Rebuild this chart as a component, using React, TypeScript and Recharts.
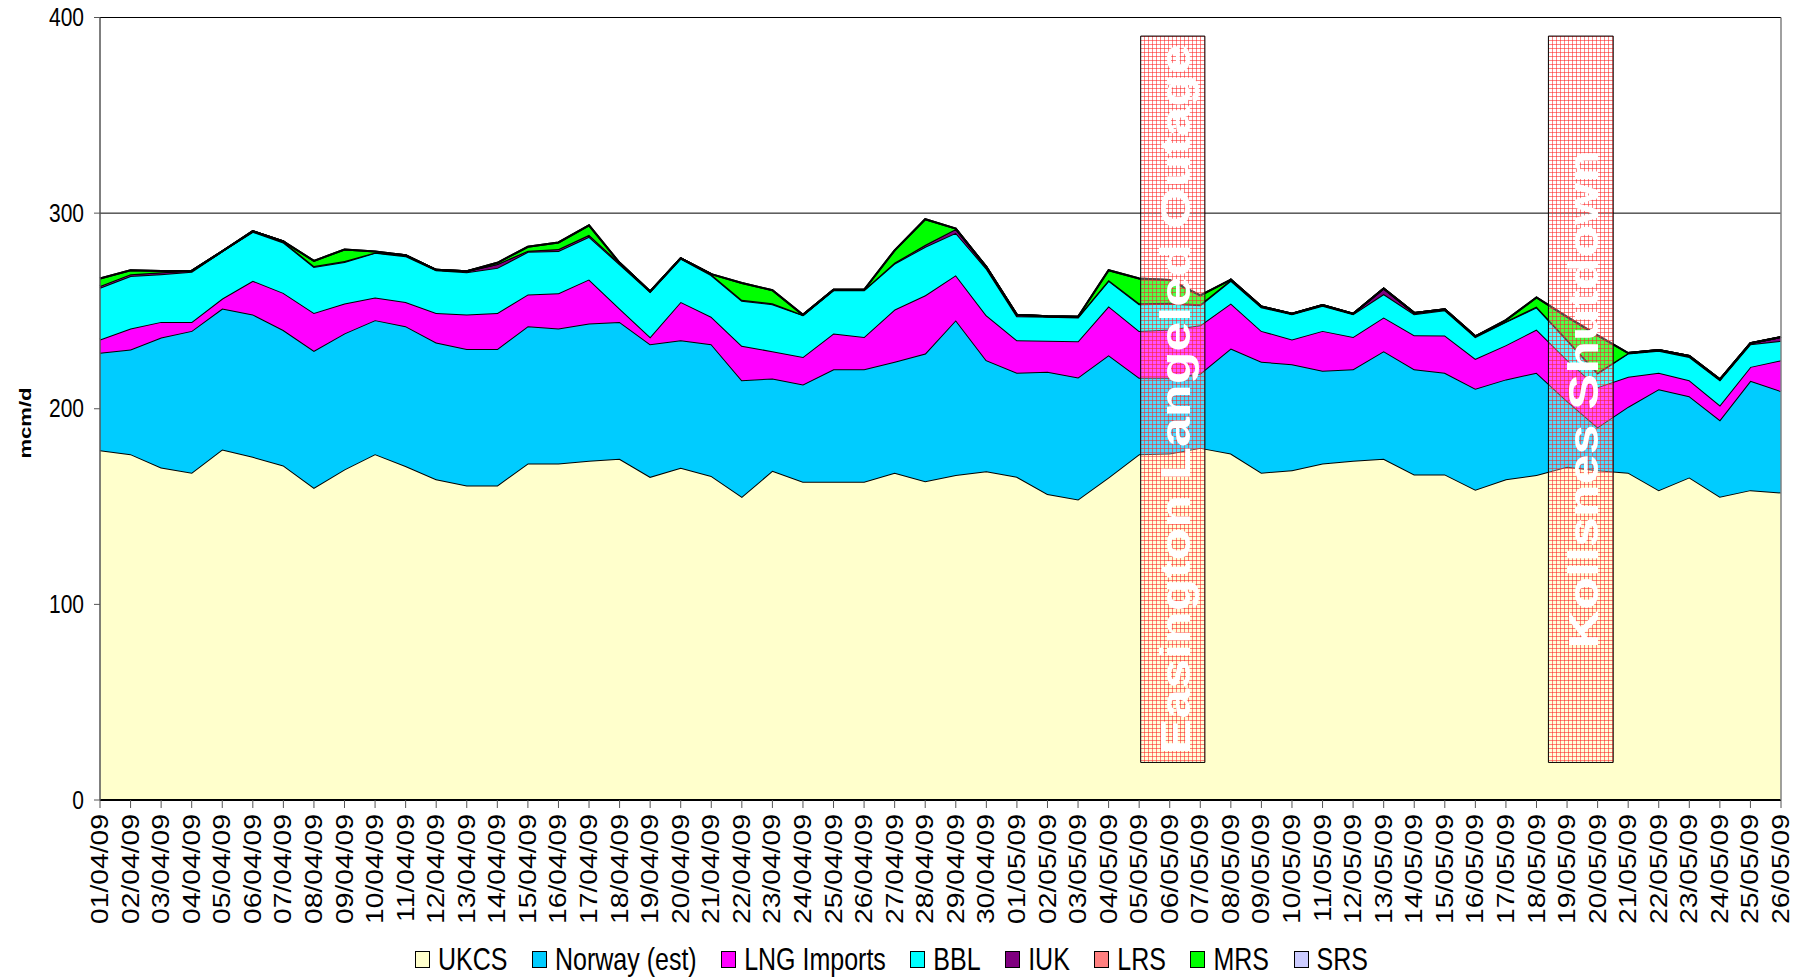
import {
  Area,
  AreaChart,
  CartesianGrid,
  Legend,
  ReferenceArea,
  ReferenceLine,
  XAxis,
  YAxis,
} from "recharts";

const FONT = "'Liberation Sans', Arial, sans-serif";

const dates = [
  "01/04/09", "02/04/09", "03/04/09", "04/04/09", "05/04/09", "06/04/09", "07/04/09",
  "08/04/09", "09/04/09", "10/04/09", "11/04/09", "12/04/09", "13/04/09", "14/04/09",
  "15/04/09", "16/04/09", "17/04/09", "18/04/09", "19/04/09", "20/04/09", "21/04/09",
  "22/04/09", "23/04/09", "24/04/09", "25/04/09", "26/04/09", "27/04/09", "28/04/09",
  "29/04/09", "30/04/09", "01/05/09", "02/05/09", "03/05/09", "04/05/09", "05/05/09",
  "06/05/09", "07/05/09", "08/05/09", "09/05/09", "10/05/09", "11/05/09", "12/05/09",
  "13/05/09", "14/05/09", "15/05/09", "16/05/09", "17/05/09", "18/05/09", "19/05/09",
  "20/05/09", "21/05/09", "22/05/09", "23/05/09", "24/05/09", "25/05/09", "26/05/09",
];

const ukcs = [
  178.8, 176.8, 170, 167.3, 179.2, 175.4, 171, 159.6, 169, 176.8,
  170.7, 163.9, 160.8, 160.8, 172, 172, 173.4, 174.4, 165.2, 169.8,
  165.6, 155, 168.3, 162.7, 162.7, 162.7, 167.3, 163, 166.1, 168.1,
  165.2, 156.4, 153.6, 164.9, 176.8, 177.1, 180, 177.1, 167.3, 168.6,
  172, 173.4, 174.4, 166.4, 166.4, 158.6, 163.9, 166.1, 170.3, 168.5,
  167.3, 158.4, 164.9, 155, 158.4, 157.2,
];
const norway = [
  49.8, 53.5, 66.4, 72.5, 72, 72.8, 69.2, 70, 69.5, 68.5,
  71.5, 70, 69.8, 69.8, 70.2, 69, 70.2, 70, 67.8, 65.2,
  67.4, 59.6, 47.2, 49.7, 57.5, 57.5, 56.7, 65.2, 79.2, 56.7,
  53.2, 62.5, 62.4, 62.5, 39, 38.7, 38, 53.7, 56.7, 54.2,
  47.4, 46.8, 55, 53.8, 52, 51.6, 51.1, 52.3, 33.7, 22,
  33.7, 51.6, 41.5, 39.2, 55.9, 51.8,
];
const lng = [
  6.8, 10.7, 8, 4.6, 5.1, 17.2, 19, 19.4, 15.3, 11.6,
  12.4, 15.1, 17.6, 18.4, 16.2, 18, 22.5, 6.8, 3.7, 19.6,
  14, 17.6, 13.9, 14.1, 18.3, 16.5, 26.7, 29.8, 23, 23,
  16.6, 15.8, 18.5, 25, 24, 24.7, 24.7, 23, 15.8, 12.6,
  20.4, 16.5, 17.3, 17.4, 19.1, 15.3, 17.5, 22.1, 21, 20.5,
  15.3, 8.4, 8.2, 7.6, 7.1, 15.8,
];
const bbl = [
  26.4, 26.8, 24.4, 25.6, 24.2, 25, 25.8, 23.5, 21.2, 22.8,
  23.4, 21.8, 21.6, 23, 21.8, 21.6, 21.8, 22.7, 23, 22.2,
  21.3, 23, 24, 21.3, 22.1, 23.9, 23.5, 24.8, 21.6, 23.9,
  12.3, 12.3, 12.2, 13, 13.6, 13.2, 10.2, 11.6, 12, 12.9,
  12.8, 11.6, 11.9, 10.7, 12.9, 11.2, 11.9, 11.3, 10, 7,
  12, 11.2, 11.9, 12.8, 11.6, 9.9,
];
const iuk = [
  1, 1, 1, 0.5, 0, 0.4, 0.5, 0.5, 0.5, 0.2,
  0.5, 0.2, 0.5, 2, 0.6, 1, 1, 0.7, 0.3, 0.2,
  0.5, 0.5, 0.5, 0.2, 0.2, 0.2, 0.5, 1, 2, 0.8,
  0.7, 0.3, 0.3, 0.4, 0.5, 0.5, 0.5, 0.6, 0.5, 0.3,
  0.4, 0.3, 2.9, 0.7, 0.4, 0.3, 0.3, 0.5, 0.5, 0.5,
  0.2, 0.4, 0.5, 0.4, 0.5, 2,
];
const lrs = [
  0, 0, 0, 0, 0, 0, 0, 0, 0, 0,
  0, 0, 0, 0, 0, 0, 0, 0, 0, 0,
  0, 0, 0, 0, 0, 0, 0, 0, 0, 0,
  0, 0, 0, 0, 0, 0, 0, 0, 0, 0,
  0, 0, 0, 0, 0, 0, 0, 0, 0, 0,
  0, 0, 0, 0, 0, 0,
];
const mrs = [
  3.8, 2, 0.6, 0, 0, 0, 0, 2.6, 5.9, 0.5,
  0, 0, 0, 0.6, 2, 3.4, 4.9, 0, 0, 0,
  0, 8.6, 6.7, 0, 0, 0, 6.3, 13.1, 0.2, 0,
  0, 0, 0, 5, 12.7, 11.6, 4.6, 0, 0, 0,
  0, 0, 0, 0, 0, 0, 0.6, 4.6, 11.5, 19,
  0, 0, 0, 0, 0, 0,
];
const srs = [
  0, 0, 0, 0, 0, 0, 0, 0, 0, 0,
  0, 0, 0, 0, 0, 0, 0, 0, 0, 0,
  0, 0, 0, 0, 0, 0, 0, 0, 0, 0,
  0, 0, 0, 0, 0, 0, 0, 0, 0, 0,
  0, 0, 0, 0, 0, 0, 0, 0, 0, 0,
  0, 0, 0, 0, 0, 0,
];

const yTicks = [0, 100, 200, 300, 400];

const series = [
  { key: "UKCS", values: ukcs, color: "#FFFFCC" },
  { key: "Norway (est)", values: norway, color: "#00CCFF" },
  { key: "LNG Imports", values: lng, color: "#FF00FF" },
  { key: "BBL", values: bbl, color: "#00FFFF" },
  { key: "IUK", values: iuk, color: "#800080" },
  { key: "LRS", values: lrs, color: "#FF8080" },
  { key: "MRS", values: mrs, color: "#00FF00" },
  { key: "SRS", values: srs, color: "#CCCCFF" },
];

// outage windows (fractional day index)
const outages = [
  { x1: 34.05, x2: 36.15, text: "Easington Langeled Outage" },
  { x1: 47.39, x2: 49.51, text: "Kollsnes Shutdown" },
];

const data = dates.map((d, i) => {
  const row: Record<string, number | string> = { i, date: d };
  series.forEach((s) => {
    row[s.key] = s.values[i];
  });
  return row;
});

function DateTick(props: any) {
  const { x, y, payload } = props;
  return (
    <text
      transform={`translate(${x},${y + 4}) rotate(-90) scale(1.23,1)`}
      textAnchor="end"
      dominantBaseline="central"
      fontSize={23}
      fontFamily={FONT}
      fill="#000"
    >
      {dates[payload.value]}
    </text>
  );
}

function ValueTick(props: any) {
  const { x, y, payload } = props;
  return (
    <text
      transform={`translate(${x},${y}) scale(1,1.2)`}
      textAnchor="end"
      dominantBaseline="central"
      fontSize={21}
      fontFamily={FONT}
      fill="#000"
    >
      {payload.value}
    </text>
  );
}

function BoxLabel(props: any) {
  const { viewBox, text } = props;
  const cx = viewBox.x + viewBox.width / 2;
  const cy = viewBox.y + viewBox.height / 2;
  return (
    <text
      transform={`translate(${cx + 2},${cy}) rotate(-90) scale(1.25,1)`}
      textAnchor="middle"
      dominantBaseline="central"
      fontSize={43}
      fontWeight="bold"
      fontFamily={FONT}
      fill="#fff"
    >
      {text}
    </text>
  );
}

function LegendBox() {
  return (
    <div
      style={{
        display: "flex",
        alignItems: "center",
        gap: 24.5,
        fontFamily: FONT,
        fontSize: 25,
        lineHeight: "30px",
        color: "#000",
        whiteSpace: "nowrap",
      }}
    >
      {series.map((s) => (
        <div key={s.key} style={{ display: "flex", alignItems: "center", gap: 8 }}>
          <span
            style={{
              width: 13,
              height: 15,
              background: s.color,
              border: "1.5px solid #000",
              display: "inline-block",
            }}
          />
          <span style={{ display: "inline-block", transform: "scaleY(1.25)" }}>{s.key}</span>
        </div>
      ))}
    </div>
  );
}

export default function App() {
  return (
    <>
      <style>{"body{margin:0}"}</style>
      <AreaChart
        width={1808}
        height={977}
        data={data}
        margin={{ top: 17.5, right: 27, left: 0, bottom: 47 }}
        style={{ fontFamily: FONT }}
      >
        <defs>
          <pattern id="hatch" width="4" height="4" patternUnits="userSpaceOnUse">
            <rect width="4" height="4" fill="#ffffff" fillOpacity={0.3} />
            <path d="M0 0.5H4M0.5 0V4" stroke="#ff2020" strokeOpacity={0.55} strokeWidth={1} />
          </pattern>
        </defs>
        <CartesianGrid vertical={false} stroke="#000" strokeWidth={1} />
        <XAxis
          dataKey="i"
          type="number"
          domain={[0, 55]}
          ticks={dates.map((_, i) => i)}
          interval={0}
          height={130}
          tick={<DateTick />}
          tickSize={8}
          tickLine={{ stroke: "#555" }}
          axisLine={{ stroke: "#000", strokeWidth: 2 }}
          allowDecimals={false}
        />
        <YAxis
          domain={[0, 400]}
          ticks={yTicks}
          width={100}
          tick={<ValueTick />}
          tickSize={6}
          tickMargin={10}
          tickLine={{ stroke: "#555" }}
          axisLine={{ stroke: "#555", strokeWidth: 1.5 }}
          label={{
            content: () => (
              <text
                transform="translate(25,423) rotate(-90) scale(1.3,1)"
                textAnchor="middle"
                dominantBaseline="central"
                fontSize={17}
                fontWeight="bold"
                fontFamily={FONT}
                fill="#000"
              >
                mcm/d
              </text>
            ),
          }}
        />
        {series.map((s) => (
          <Area
            key={s.key}
            type="linear"
            dataKey={s.key}
            stackId="supply"
            stroke="#000"
            strokeWidth={2}
            fill={s.color}
            fillOpacity={1}
            dot={false}
            activeDot={false}
            isAnimationActive={false}
          />
        ))}
        <ReferenceLine x={55} stroke="#808080" strokeWidth={1.5} zIndex={600} />
        {outages.map((o) => (
          <ReferenceArea
            key={o.text}
            x1={o.x1}
            x2={o.x2}
            y1={19.2}
            y2={390.5}
            fill="url(#hatch)"
            fillOpacity={1}
            stroke="#000"
            strokeWidth={1}
            zIndex={700}
            label={<BoxLabel text={o.text} />}
          />
        ))}
        <Legend
          verticalAlign="middle"
          align="center"
          layout="horizontal"
          content={<LegendBox />}
          wrapperStyle={{ top: 944, left: 415, width: "auto", height: 30 }}
        />
      </AreaChart>
    </>
  );
}
